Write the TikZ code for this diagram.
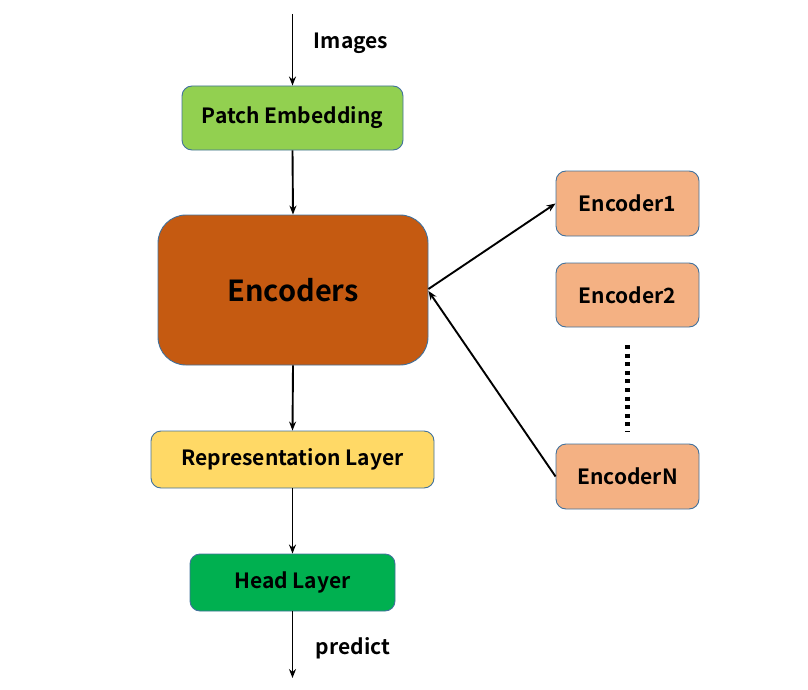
\documentclass[tikz,border=0pt]{standalone}
\usepackage{fontspec}
\setmainfont{Noto Sans CJK SC}[BoldFont={Noto Sans CJK SC Bold}]
\usetikzlibrary{arrows.meta}
\definecolor{bordc}{HTML}{41719C}
\definecolor{patchc}{HTML}{92D050}
\definecolor{encc}{HTML}{C55A11}
\definecolor{repc}{HTML}{FFD966}
\definecolor{headc}{HTML}{00B050}
\definecolor{subc}{HTML}{F4B183}
\tikzset{
  blk/.style={draw=bordc, line width=0.9pt, rounded corners=10pt, inner sep=0pt, font=\bfseries\fontsize{21}{24}\selectfont, text=black},
  conn/.style={line width=1.9pt, -{Stealth[length=9pt,width=7pt]}},
  lbl/.style={font=\bfseries\fontsize{21}{24}\selectfont, inner sep=0pt}
}
\begin{document}
\begin{tikzpicture}[x=1pt,y=-1pt]
\useasboundingbox (0,0) rectangle (808,690);
\node[blk, fill=patchc, minimum width=221pt, minimum height=64pt] (patch) at (292.5,118) {Patch Embedding};
\node[blk, fill=encc, rounded corners=28pt, minimum width=270pt, minimum height=150pt, font=\bfseries\fontsize{29}{33}\selectfont] (enc) at (293,290) {Encoders};
\node[blk, fill=repc, minimum width=283pt, minimum height=57pt] (rep) at (292.5,459.5) {Representation Layer};
\node[blk, fill=headc, minimum width=205pt, minimum height=57pt] (head) at (292.5,582.5) {Head Layer};
\node[blk, fill=subc, minimum width=143pt, minimum height=65pt] (e1) at (627.5,203.5) {Encoder1};
\node[blk, fill=subc, minimum width=143pt, minimum height=64pt] (e2) at (627.5,295) {Encoder2};
\node[blk, fill=subc, minimum width=143pt, minimum height=65pt] (eN) at (627.5,476.5) {EncoderN};
\coordinate (in) at (292.5,14);
\coordinate (out) at (292.5,678);
\coordinate (d1) at (627.5,345);
\coordinate (d2) at (627.5,432);
\node[lbl] (imgl) at (351,43) {Images};
\node[lbl] (predl) at (353,648) {predict};
\draw[conn] (in) -- (patch.north);
\draw[conn] (patch.south) -- (enc.north);
\draw[conn] (enc.south) -- (rep.north);
\draw[conn] (rep.south) -- (head.north);
\draw[conn] (head.south) -- (out);
\draw[conn] ([yshift=1pt]enc.east) -- (e1.west);
\draw[conn] (eN.west) -- ([yshift=-1pt]enc.east);
\draw[line width=5pt, dash pattern=on 4pt off 4.6pt] (d1) -- (d2);
\end{tikzpicture}
\end{document}
